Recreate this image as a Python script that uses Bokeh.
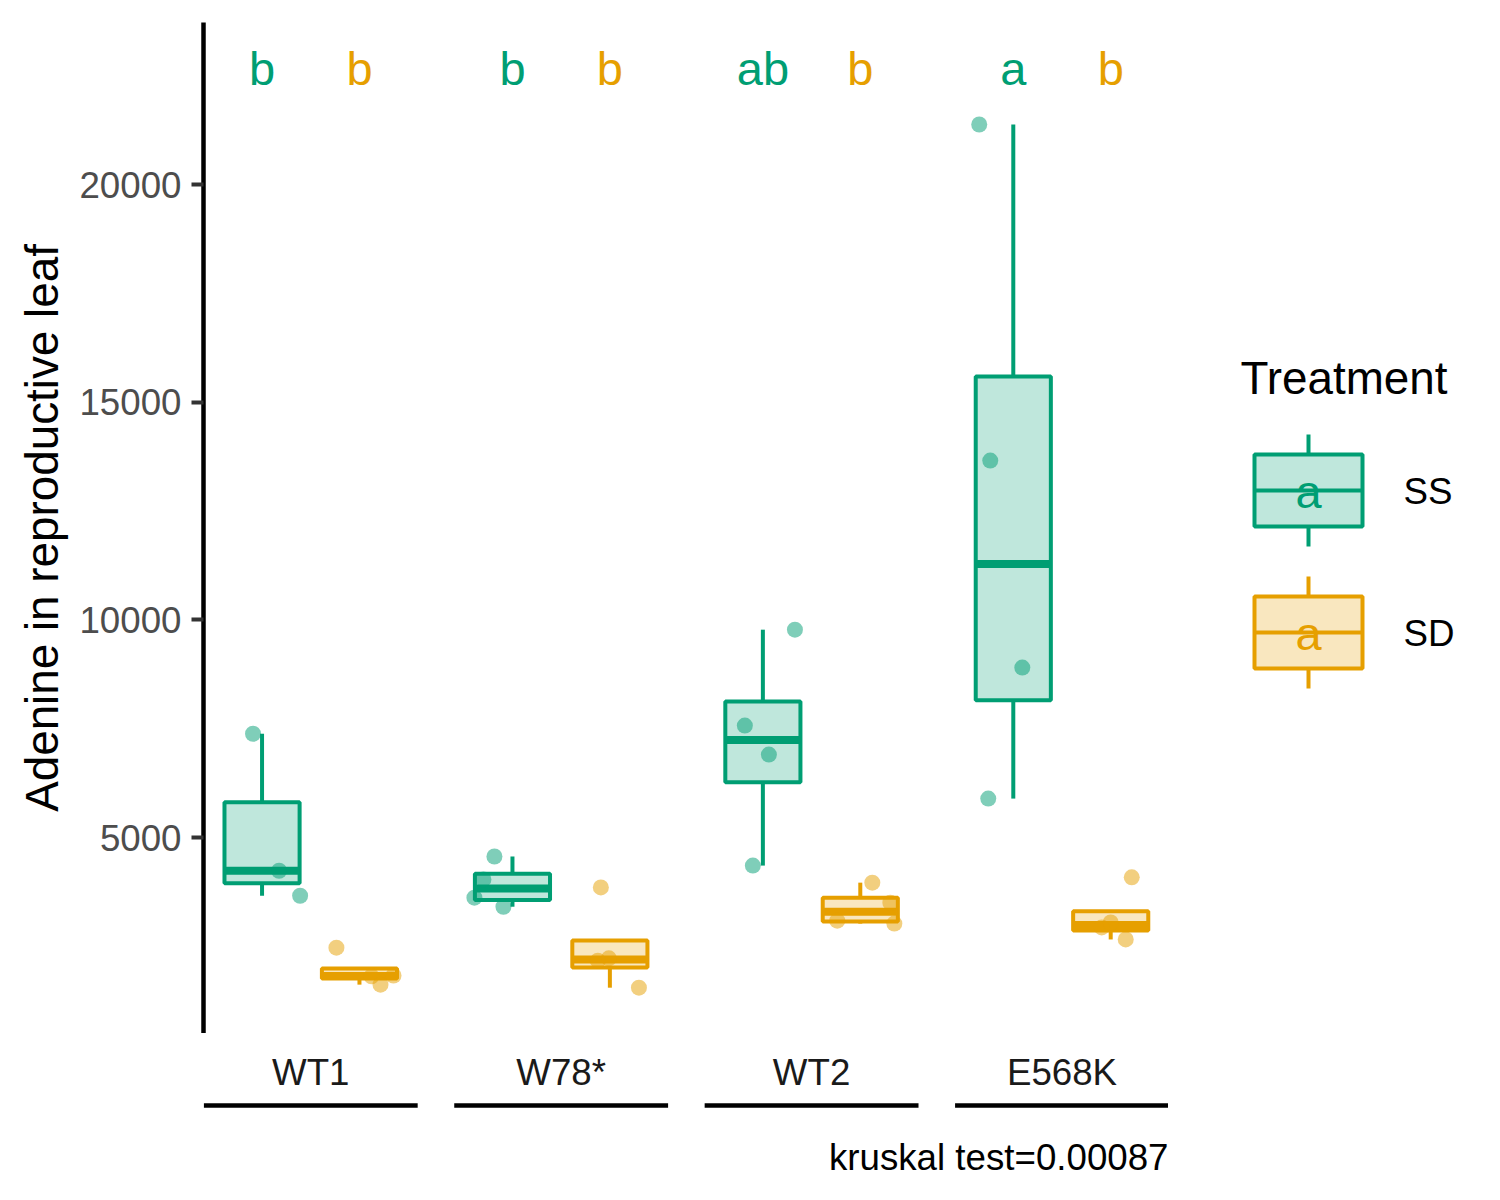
import numpy as np
from bokeh.plotting import figure
from bokeh.models import Range1d, FixedTicker, ColumnDataSource
from bokeh.layouts import row, column
from bokeh.core.properties import value
from bokeh.embed import file_html
from bokeh.resources import INLINE

# ---------------- data ----------------
genotypes = ["WT1", "W78*", "WT2", "E568K"]
treatments = ["SS", "SD"]
treat_colors = ["#009E73", "#E69F00"]

wt1_ss = [7384, 4237, 3662]
wt1_sd = [2470, 1810, 1620, 1830]
w78_ss = [4564, 4037, 3617, 3410]
w78_sd = [3854, 2170, 2225, 1550]
wt2_ss = [9774, 7571, 6905, 4355]
wt2_sd = [3963, 3503, 3089, 3022]
e568k_ss = [21379, 13658, 8903, 5894]
e568k_sd = [4085, 2934, 3048, 2658]

# horizontal jitter of each point (category units)
wt1_ss_jit = [-0.036, 0.068, 0.152]
wt1_sd_jit = [-0.092, 0.048, 0.084, 0.136]
w78_ss_jit = [-0.072, -0.116, -0.152, -0.036]
w78_sd_jit = [-0.036, -0.048, -0.004, 0.116]
wt2_ss_jit = [0.128, -0.072, 0.024, -0.040]
wt2_sd_jit = [0.048, 0.120, -0.092, 0.136]
e568k_ss_jit = [-0.136, -0.092, 0.036, -0.100]
e568k_sd_jit = [0.084, -0.036, 0.000, 0.060]

letters_ss = ["b", "b", "ab", "a"]
letters_sd = ["b", "b", "b", "b"]
y_ticks = [5000, 10000, 15000, 20000]
y_title = "Adenine in reproductive leaf"
legend_title = "Treatment"
caption = "kruskal test=0.00087"

series = {
    ("WT1", "SS"): (wt1_ss, wt1_ss_jit), ("WT1", "SD"): (wt1_sd, wt1_sd_jit),
    ("W78*", "SS"): (w78_ss, w78_ss_jit), ("W78*", "SD"): (w78_sd, w78_sd_jit),
    ("WT2", "SS"): (wt2_ss, wt2_ss_jit), ("WT2", "SD"): (wt2_sd, wt2_sd_jit),
    ("E568K", "SS"): (e568k_ss, e568k_ss_jit), ("E568K", "SD"): (e568k_sd, e568k_sd_jit),
}

# ---------------- layout constants ----------------
FONT = "Liberation Sans"
DODGE = 0.1945
BOX_W = 0.30
X_LO, X_HI = 0.5717, 4.4253
Y_LO, Y_HI = 497.7, 23722
FRAME_TOP, FRAME_H = 22, 1011
PX_PER_UNIT = FRAME_H / (Y_HI - Y_LO)
BASE_SHIFT = 0.4  # svg alphabetic baseline correction (em)
LW = 4.0
MED_LW = 8.0


def y_at(screen_y, font_px):
    return Y_HI - (screen_y - BASE_SHIFT * font_px - FRAME_TOP) / PX_PER_UNIT


def fill_color(hexc, a):
    r, g, b = int(hexc[1:3], 16), int(hexc[3:5], 16), int(hexc[5:7], 16)
    return "#%02x%02x%02x" % tuple(round(c * a + 255 * (1 - a)) for c in (r, g, b))


def box_stats(v):
    v = np.asarray(v, float)
    q1, med, q3 = np.percentile(v, [25, 50, 75])
    iqr = q3 - q1
    inside = v[(v >= q1 - 1.5 * iqr) & (v <= q3 + 1.5 * iqr)]
    lo = min(q1, inside.min())
    hi = max(q3, inside.max())
    return q1, med, q3, lo, hi


# ---------------- main panel ----------------
p = figure(width=1168, height=1033, x_range=Range1d(X_LO, X_HI), y_range=Range1d(Y_LO, Y_HI),
           output_backend="svg", toolbar_location=None, x_axis_location=None,
           min_border_left=203, min_border_right=0, min_border_top=FRAME_TOP, min_border_bottom=0)
p.outline_line_color = None
p.grid.grid_line_color = None
p.background_fill_color = "white"
p.border_fill_color = "white"

ax = p.yaxis[0]
ax.ticker = FixedTicker(ticks=y_ticks)
ax.axis_label = y_title
ax.axis_label_text_font = FONT
ax.axis_label_text_font_size = "45.8px"
ax.axis_label_text_font_style = "normal"
ax.axis_label_text_color = "black"
ax.axis_label_standoff = 8
ax.major_label_text_font = FONT
ax.major_label_text_font_size = "36.7px"
ax.major_label_text_color = "#4D4D4D"
ax.major_label_standoff = 10
ax.major_tick_out = 12
ax.major_tick_in = 0
ax.major_tick_line_width = 4
ax.major_tick_line_color = "#333333"
ax.minor_tick_line_color = None
ax.axis_line_width = 4.5
ax.axis_line_color = "black"

for ti, t in enumerate(treatments):
    col = treat_colors[ti]
    cx, q1s, meds, q3s, los, his = [], [], [], [], [], []
    px, py = [], []
    for gi, g in enumerate(genotypes):
        c = gi + 1 + (-DODGE if ti == 0 else DODGE)
        vals, jit = series[(g, t)]
        q1, med, q3, lo, hi = box_stats(vals)
        cx.append(c); q1s.append(q1); meds.append(med); q3s.append(q3); los.append(lo); his.append(hi)
        px += [c + j for j in jit]
        py += list(vals)
    src = ColumnDataSource(dict(x=cx, left=[c - BOX_W / 2 for c in cx], right=[c + BOX_W / 2 for c in cx],
                                q1=q1s, med=meds, q3=q3s, lo=los, hi=his))
    p.segment(x0="x", x1="x", y0="q3", y1="hi", source=src, line_color=col, line_width=LW)
    p.segment(x0="x", x1="x", y0="q1", y1="lo", source=src, line_color=col, line_width=LW)
    p.quad(left="left", right="right", bottom="q1", top="q3", source=src,
           fill_color=fill_color(col, 0.25), line_color=col, line_width=LW)
    p.segment(x0="left", x1="right", y0="med", y1="med", source=src, line_color=col, line_width=MED_LW)
    p.scatter(x=px, y=py, size=16, fill_color=col, fill_alpha=0.5, line_color=None)
    letters = letters_ss if ti == 0 else letters_sd
    p.text(x=cx, y=[y_at(87, 47)] * len(cx), text=letters, text_color=col,
           text_font=value(FONT), text_font_size=value("47px"),
           text_align="center", text_baseline="alphabetic")

# ---------------- bottom strip: category labels, brackets, caption ----------------
B_TOP = 1033
b = figure(width=1168, height=151, x_range=p.x_range, y_range=Range1d(1184, B_TOP),
           output_backend="svg", toolbar_location=None, x_axis_location=None, y_axis_location=None,
           min_border_left=203, min_border_right=0, min_border_top=0, min_border_bottom=0)
b.outline_line_color = None
b.grid.grid_line_color = None
gx = [i + 1 for i in range(len(genotypes))]
b.text(x=gx, y=[1087 - BASE_SHIFT * 36.7] * len(gx), text=genotypes, text_color="#1A1A1A",
       text_font=value(FONT), text_font_size=value("36.7px"),
       text_align="center", text_baseline="alphabetic")
b.segment(x0=[g - 0.427 for g in gx], x1=[g + 0.427 for g in gx], y0=[1105] * len(gx), y1=[1105] * len(gx),
          line_color="black", line_width=4.5)
b.text(x=[X_HI], y=[1172 - BASE_SHIFT * 36.7], text=[caption], text_color="black",
       text_font=value(FONT), text_font_size=value("36.7px"),
       text_align="right", text_baseline="alphabetic")

# ---------------- legend ----------------
lg = figure(width=316, height=1184, x_range=Range1d(1168, 1484), y_range=Range1d(1184, 0),
            output_backend="svg", toolbar_location=None, x_axis_location=None, y_axis_location=None,
            min_border=0)
lg.outline_line_color = None
lg.grid.grid_line_color = None
lg.text(x=[1240], y=[396 - BASE_SHIFT * 45.8], text=[legend_title], text_color="black",
        text_font=value(FONT), text_font_size=value("45.8px"), text_baseline="alphabetic")
key_tops = [454, 596]
for ti, t in enumerate(treatments):
    col = treat_colors[ti]
    top = key_tops[ti]
    bot = top + 72
    mid = top + 36
    lg.segment(x0=[1308, 1308], x1=[1308, 1308], y0=[top - 20, bot], y1=[top, bot + 20],
               line_color=col, line_width=LW)
    lg.quad(left=[1254], right=[1362], top=[top], bottom=[bot],
            fill_color=fill_color(col, 0.25), line_color=col, line_width=LW)
    lg.segment(x0=[1254], x1=[1362], y0=[mid], y1=[mid], line_color=col, line_width=LW)
    lg.text(x=[1308], y=[mid + 20 - BASE_SHIFT * 47], text=[letters_ss[3]], text_color=col,
            text_font=value(FONT), text_font_size=value("47px"),
            text_align="center", text_baseline="alphabetic")
    lg.text(x=[1403], y=[mid + 16 - BASE_SHIFT * 36.7], text=[t], text_color="black",
            text_font=value(FONT), text_font_size=value("36.7px"), text_baseline="alphabetic")

layout = row(column(p, b), lg)
open("out.html", "w").write(file_html(layout, INLINE))
